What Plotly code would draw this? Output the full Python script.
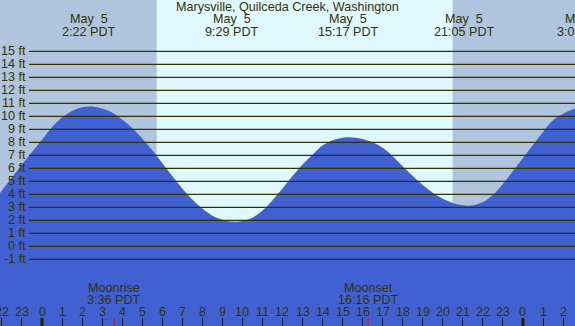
import plotly.graph_objects as go

# ---- data ----
title = "Marysville, Quilceda Creek, Washington"

# tide height (ft) at time (hours from midnight May 5, local PDT), read every half hour
tide_hours = [h / 2 for h in range(-5, 55)]
tide_ft = [3.3, 4.3, 5.3, 6.3, 7.25, 8.2, 9.15, 9.9, 10.4, 10.7,          # -2.5 .. 2.0
           10.75, 10.6, 10.3, 9.75, 9.1, 8.3, 7.4, 6.4, 5.4, 4.45,        # 2.5 .. 7.0
           3.6, 2.9, 2.35, 2.05, 1.9, 1.95, 2.2, 2.75, 3.55, 4.45,        # 7.5 .. 12.0
           5.4, 6.3, 7.05, 7.75, 8.15, 8.35, 8.37, 8.25, 8.0, 7.58,       # 12.5 .. 17.0
           6.93, 6.15, 5.4, 4.72, 4.12, 3.65, 3.33, 3.15, 3.15, 3.4,      # 17.5 .. 22.0
           3.95, 4.8, 5.8, 6.8, 7.8, 8.8, 9.7, 10.2, 10.55, 10.75]        # 22.5 .. 27.0

# labelled extremes
extreme_hours = [2.37, 9.48, 15.28, 21.08, 27.05]
extreme_dates = ["May\u00a0 5", "May\u00a0 5", "May\u00a0 5", "May\u00a0 5", "May\u00a0 6"]
extreme_times = ["2:22 PDT", "9:29 PDT", "15:17 PDT", "21:05 PDT", "3:03 PDT"]

sunrise, sunset = 5.72, 20.49
moon_hours = [3.60, 16.27]
moon_names = ["Moonrise", "Moonset"]
moon_times = ["3:36 PDT", "16:16 PDT"]

ft_levels = list(range(-1, 16))
hour_ticks = list(range(-2, 27))
hour_text = [str(h % 24) for h in hour_ticks]
midnights = [0, 24]

# ---- styling ----
W, H = 575, 326
x0, x1 = -42 / 20.04, (W - 42) / 20.04
y0, y1 = (246.3 - H) / 13.0, 246.3 / 13.0
NIGHT = "#B0C4DE"
DAY = "#E0F8FF"
BLUE = "#4161D3"
INK = "#333300"
FONT = "Liberation Sans"
FS = 12.6


def px_y(py):
    """paper y fraction from a pixel row measured from the top"""
    return (H - py) / H


def paper_x(h):
    return (h - x0) / (x1 - x0)


fig = go.Figure()
fig.add_trace(go.Scatter(x=tide_hours, y=[y0 - 5] * len(tide_hours), mode="lines",
                         line=dict(width=0, color=BLUE), hoverinfo="skip", showlegend=False))
fig.add_trace(go.Scatter(x=tide_hours, y=tide_ft, mode="lines", fill="tonexty",
                         fillcolor=BLUE, line=dict(width=0, color=BLUE, shape="spline",
                                                   smoothing=1.0),
                         showlegend=False))

shapes = [dict(type="rect", xref="x", yref="paper", x0=sunrise, x1=sunset, y0=0, y1=1,
               fillcolor=DAY, line=dict(width=0), layer="below")]
for f in ft_levels:
    shapes.append(dict(type="line", xref="paper", yref="y", x0=29 / W, x1=1, y0=f, y1=f,
                       line=dict(color=INK, width=1.3), layer="above"))
for m in midnights:
    shapes.append(dict(type="line", xref="x", yref="paper", x0=m, x1=m, y0=0, y1=8 / H,
                       line=dict(color="#222200", width=3), layer="above"))
for m in moon_hours:
    shapes.append(dict(type="line", xref="x", yref="paper", x0=m, x1=m, y0=0, y1=8 / H,
                       line=dict(color="#FF0000", width=1), layer="above"))

ann = [dict(text=title, xref="paper", yref="paper", x=0.5, y=px_y(7.5), showarrow=False,
            xanchor="center", yanchor="middle", font=dict(size=FS, color=INK))]
for h, d, t in zip(extreme_hours, extreme_dates, extreme_times):
    ann.append(dict(text=d, xref="paper", yref="paper", x=paper_x(h), y=px_y(19.5),
                    showarrow=False, xanchor="center", yanchor="middle",
                    font=dict(size=FS, color=INK)))
    ann.append(dict(text=t, xref="paper", yref="paper", x=paper_x(h), y=px_y(31.5),
                    showarrow=False, xanchor="center", yanchor="middle",
                    font=dict(size=FS, color=INK)))
for h, n, t in zip(moon_hours, moon_names, moon_times):
    ann.append(dict(text=n, xref="x", yref="paper", x=h, y=px_y(287.5),
                    showarrow=False, xanchor="center", yanchor="middle",
                    font=dict(size=FS, color=INK)))
    ann.append(dict(text=t, xref="x", yref="paper", x=h, y=px_y(299.5),
                    showarrow=False, xanchor="center", yanchor="middle",
                    font=dict(size=FS, color=INK)))
for h, t in zip(hour_ticks, hour_text):
    ann.append(dict(text=t, xref="x", yref="paper", x=h, y=px_y(311.5),
                    showarrow=False, xanchor="center", yanchor="middle",
                    font=dict(size=FS, color=INK)))
for f in ft_levels:
    ann.append(dict(text=f"{f} ft", xref="paper", yref="y", x=27.5 / W, y=f,
                    showarrow=False, xanchor="right", yanchor="middle",
                    font=dict(size=FS, color=INK)))

fig.update_layout(
    width=W, height=H, margin=dict(l=0, r=0, t=0, b=0),
    paper_bgcolor=NIGHT, plot_bgcolor=NIGHT,
    font=dict(family=FONT, size=FS, color=INK),
    shapes=shapes, annotations=ann, showlegend=False,
    xaxis=dict(range=[x0, x1], showgrid=False, zeroline=False, showline=False,
               tickmode="array", tickvals=hour_ticks,
               ticks="inside", ticklen=8, tickwidth=1, tickcolor="#222200",
               showticklabels=False, fixedrange=True),
    yaxis=dict(range=[y0, y1], visible=False, fixedrange=True),
)

fig.write_html("out.html", config={"displayModeBar": False},
               post_script="document.body.style.margin='0';"
                           "document.body.style.overflow='hidden';")
